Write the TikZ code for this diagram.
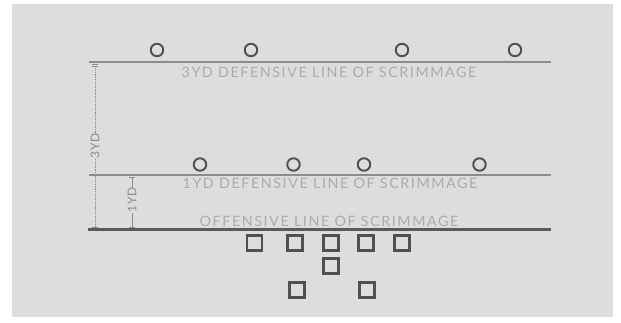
\documentclass[tikz,border=0pt]{standalone}
\usepackage{fontspec}
\setmainfont{Lato}
\begin{document}
\begin{tikzpicture}[x=1pt,y=-1pt,
  defender/.style={circle,draw=playerc,line width=1.9pt,minimum size=12.5pt,inner sep=0pt},
  blocker/.style={rectangle,draw=playerc,line width=2.1pt,minimum size=15pt,inner sep=0pt},
  defline/.style={draw=linec,line width=2pt},
  offline/.style={draw=offc,line width=2.6pt},
  linelabel/.style={text=labelc,font=\fontsize{14.3}{15}\selectfont\addfontfeatures{LetterSpace=11},inner sep=0pt},
  dimlabel/.style={text=dimc,font=\fontsize{12}{13}\selectfont\addfontfeatures{LetterSpace=5},inner sep=1pt,rotate=90,fill=bgc},
  dimline/.style={draw=dimc,line width=0.9pt},
]
\definecolor{bgc}{HTML}{DFDCDC}
\definecolor{playerc}{HTML}{505050}
\definecolor{linec}{HTML}{8C8C8C}
\definecolor{offc}{HTML}{5A5A5A}
\definecolor{labelc}{HTML}{ABABAB}
\definecolor{dimc}{HTML}{8A8A8A}
\useasboundingbox (0,0) rectangle (621,322);
\fill[white] (0,0) rectangle (621,322);
\fill[bgc] (12,4) rectangle (613,317);

% lines
\coordinate (l3a) at (89,62); \coordinate (l3b) at (551,62);
\coordinate (l1a) at (89,175); \coordinate (l1b) at (551,175);
\coordinate (loa) at (88,229.5); \coordinate (lob) at (551,229.5);
\draw[defline] (l3a) -- (l3b);
\draw[defline] (l1a) -- (l1b);
\draw[offline] (loa) -- (lob);

% labels
\node[linelabel] (t3) at (329,72.5) {3YD DEFENSIVE LINE OF SCRIMMAGE};
\node[linelabel] (t1) at (330,183.5) {1YD DEFENSIVE LINE OF SCRIMMAGE};
\node[linelabel] (to) at (329,221.5) {OFFENSIVE LINE OF SCRIMMAGE};

% defenders
\node[defender] (d1) at (157,50) {};
\node[defender] (d2) at (251,50) {};
\node[defender] (d3) at (402,50) {};
\node[defender] (d4) at (515,50) {};
\node[defender] (e1) at (200,164.5) {};
\node[defender] (e2) at (293.5,164.5) {};
\node[defender] (e3) at (364,164.5) {};
\node[defender] (e4) at (479.5,164.5) {};

% offense
\node[blocker] (o1) at (254.5,243) {};
\node[blocker] (o2) at (295,243) {};
\node[blocker] (o3) at (331,243) {};
\node[blocker] (o4) at (366,243) {};
\node[blocker] (o5) at (402,243) {};
\node[blocker] (q1) at (331,266) {};
\node[blocker] (b1) at (297,290) {};
\node[blocker] (b2) at (367,290) {};

% dimensions
\coordinate (a3t) at (95,64); \coordinate (a3b) at (95,227.5);
\coordinate (a1t) at (132,177); \coordinate (a1b) at (132,227.5);
\draw[dimline,densely dotted,line width=1pt] (a3t) -- (a3b);
\draw[dimline] (a1t) -- (a1b);
\foreach \c in {a3t,a3b,a1t,a1b}{
  \draw[dimline] ([xshift=-3pt]\c) -- ([xshift=3pt]\c);
}
\draw[dimline] ([xshift=-3pt,yshift=-2.5pt]a3t) -- ([xshift=3pt,yshift=-2.5pt]a3t);
\node[dimlabel] (n3) at (95,146) {3YD};
\node[dimlabel] (n1) at (132,200) {1YD};
\end{tikzpicture}
\end{document}
